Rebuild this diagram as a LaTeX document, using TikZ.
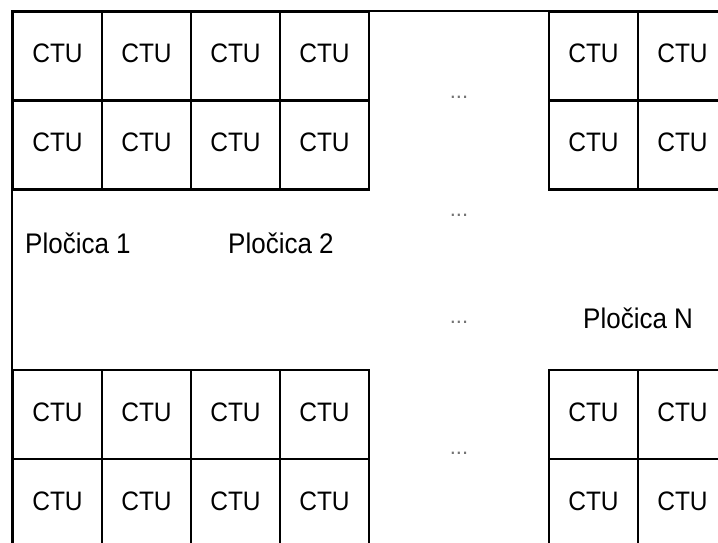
\documentclass[tikz,border=0pt]{standalone}
\usepackage{fontspec}
\setmainfont{Liberation Sans}
\usetikzlibrary{positioning}
\newcommand{\tall}[1]{\scalebox{1}[1.09]{#1}}

\begin{document}
\begin{tikzpicture} [
		x=1pt, y=-1pt,
		ctu/.style = {rectangle, draw=black, line width=2.8pt,
			minimum width=89pt, minimum height=89pt, inner sep=0pt,
			text depth=5pt, font=\fontsize{24.5}{28}\selectfont},
		tile/.style = {anchor=base west, inner sep=0pt,
			font=\fontsize{26}{30}\selectfont},
		dots/.style = {anchor=base, inner sep=0pt, text=black!55,
			font=\fontsize{22}{26}\selectfont},
		border/.style = {draw=black, line width=1.2pt},
	]
	\useasboundingbox (0,0) rectangle (718,542);
	\clip (0,0) rectangle (718,542);
	% outer frame
	\draw [border] (12,11) rectangle (760,580);
	% CTU blocks (4x2 left, 2x2 right, top and bottom)
	\begin{scope}
		\foreach \r/\y in {1/56, 2/145, 3/414.5, 4/503.5} {
			\foreach \c/\x in {1/57.5, 2/146.5, 3/235.5, 4/324.5, 5/593.5, 6/682.5}
				\node [ctu] (ctu-\r-\c) at (\x,\y) {\tall{CTU}};
		}
	\end{scope}
	% tile names and gaps
	\begin{scope}
		\node [tile] (tile1) at (25,253) {\tall{Pločica 1}};
		\node [tile] (tile2) at (228,253) {\tall{Pločica 2}};
		\node [tile] (tileN) at (583,328) {\tall{Pločica N}};
		\node [dots] (dots1) at (459,98) {...};
		\node [dots] (dots2) at (459,216) {...};
		\node [dots] (dots3) at (459,323) {...};
		\node [dots] (dots4) at (459,454) {...};
	\end{scope}
\end{tikzpicture}
\end{document}
